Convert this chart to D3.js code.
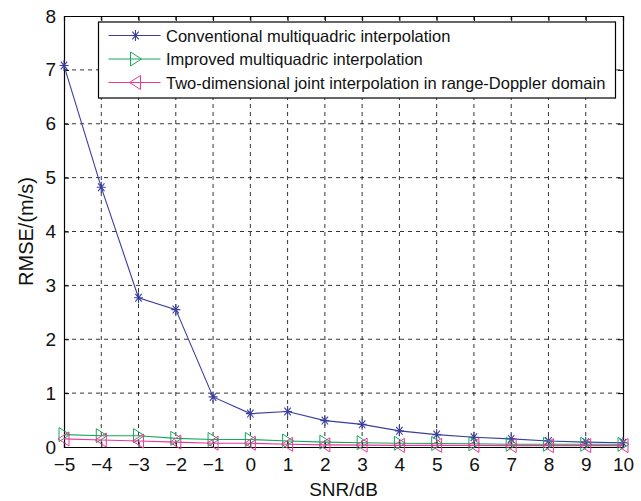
<!DOCTYPE html>
<html>
<head>
<meta charset="utf-8">
<script src="https://cdn.jsdelivr.net/npm/d3@7"></script>
<style>
  body { margin: 0; background: #fff; }
  svg { font-family: "Liberation Sans", Arial, sans-serif; }
</style>
</head>
<body>
<svg id="chart" width="641" height="501"></svg>
<script>
const snr = [-5, -4, -3, -2, -1, 0, 1, 2, 3, 4, 5, 6, 7, 8, 9, 10];
const conventional = [7.08, 4.82, 2.77, 2.55, 0.93, 0.62, 0.66, 0.49, 0.42, 0.30, 0.23, 0.18, 0.15, 0.11, 0.09, 0.08];
const improved = [0.23, 0.21, 0.21, 0.16, 0.14, 0.14, 0.11, 0.09, 0.08, 0.07, 0.065, 0.06, 0.05, 0.05, 0.05, 0.05];
const joint = [0.15, 0.13, 0.11, 0.09, 0.07, 0.07, 0.05, 0.04, 0.035, 0.03, 0.03, 0.03, 0.025, 0.025, 0.025, 0.025];
const xTicks = snr;
const yTicks = [0, 1, 2, 3, 4, 5, 6, 7, 8];

const series = [
  { name: "Conventional multiquadric interpolation", color: "#3b3f9c", marker: "star", values: conventional },
  { name: "Improved multiquadric interpolation", color: "#17a85a", marker: "right", values: improved },
  { name: "Two-dimensional joint interpolation in range-Doppler domain", color: "#e8389a", marker: "left", values: joint }
];

const margin = { top: 16, right: 18, bottom: 54, left: 64 };
const width = 641 - margin.left - margin.right;
const height = 501 - margin.top - margin.bottom;

const svg = d3.select("#chart");
const g = svg.append("g").attr("transform", `translate(${margin.left},${margin.top})`);

const x = d3.scaleLinear().domain([-5, 10]).range([0, width]);
const y = d3.scaleLinear().domain([0, 8]).range([height, 0]);

// grid
g.append("g").selectAll("line").data(xTicks.slice(1, -1)).enter().append("line")
  .attr("x1", d => x(d)).attr("x2", d => x(d)).attr("y1", 0).attr("y2", height)
  .attr("stroke", "#000").attr("stroke-width", 0.8).attr("stroke-dasharray", "4,4");
g.append("g").selectAll("line").data(yTicks.slice(1, -1)).enter().append("line")
  .attr("x1", 0).attr("x2", width).attr("y1", d => y(d)).attr("y2", d => y(d))
  .attr("stroke", "#000").attr("stroke-width", 0.8).attr("stroke-dasharray", "4,4");

// axes (ticks inside, MATLAB style)
const axB = g.append("g").attr("transform", `translate(0,${height})`)
  .call(d3.axisBottom(x).tickValues(xTicks).tickSize(-5).tickPadding(11).tickFormat(d3.format("d")));
const axT = g.append("g")
  .call(d3.axisTop(x).tickValues(xTicks).tickSize(-5).tickFormat(""));
const axL = g.append("g")
  .call(d3.axisLeft(y).tickValues(yTicks).tickSize(-5).tickPadding(8).tickFormat(d3.format("d")));
const axR = g.append("g").attr("transform", `translate(${width},0)`)
  .call(d3.axisRight(y).tickValues(yTicks).tickSize(-5).tickFormat(""));
[axB, axT, axL, axR].forEach(a => {
  a.select(".domain").attr("stroke", "#000").attr("stroke-width", 1.2);
  a.selectAll(".tick line").attr("stroke", "#000");
  a.selectAll("text").attr("fill", "#111").style("font-size", "19px");
});

g.append("text")
  .attr("x", width / 2).attr("y", height + 49)
  .attr("text-anchor", "middle").style("font-size", "19px").attr("fill", "#111")
  .text("SNR/dB");
g.append("text")
  .attr("transform", "rotate(-90)")
  .attr("x", -height / 2).attr("y", -31)
  .attr("text-anchor", "middle").style("font-size", "20px").attr("fill", "#111")
  .text("RMSE/(m/s)");

function drawMarker(sel, type, color) {
  if (type === "star") {
    sel.append("path")
      .attr("d", "M-4.5,0L4.5,0M0,-5.5L0,5.5M-3.2,-3.9L3.2,3.9M-3.2,3.9L3.2,-3.9")
      .attr("stroke", color).attr("stroke-width", 1.1).attr("fill", "none");
  } else if (type === "right") {
    sel.append("path").attr("d", "M-5,-7L6,0L-5,7Z")
      .attr("stroke", color).attr("stroke-width", 1).attr("fill", "none");
  } else {
    sel.append("path").attr("d", "M5,-7L-6,0L5,7Z")
      .attr("stroke", color).attr("stroke-width", 1).attr("fill", "none");
  }
}

const line = d3.line().x((d, i) => x(snr[i])).y(d => y(d));

series.forEach(s => {
  g.append("path").datum(s.values)
    .attr("d", line).attr("fill", "none")
    .attr("stroke", s.color).attr("stroke-width", 1.1);
  s.values.forEach((v, i) => {
    const m = g.append("g").attr("transform", `translate(${x(snr[i])},${y(v)})`);
    drawMarker(m, s.marker, s.color);
  });
});

// legend
const legend = g.append("g").attr("transform", `translate(${98.5 - margin.left},${22 - margin.top})`);
legend.append("rect")
  .attr("width", 517).attr("height", 76)
  .attr("fill", "#fff").attr("stroke", "#000").attr("stroke-width", 1.2);
series.forEach((s, i) => {
  const row = legend.append("g").attr("transform", `translate(0,${13.5 + i * 23.5})`);
  row.append("line").attr("x1", 10).attr("x2", 62).attr("y1", 0).attr("y2", 0)
    .attr("stroke", s.color).attr("stroke-width", 1.1);
  drawMarker(row.append("g").attr("transform", "translate(37,0)"), s.marker, s.color);
  row.append("text").attr("x", 67.5).attr("y", 6)
    .style("font-size", "16.5px").attr("fill", "#111")
    .text(s.name);
});
</script>
</body>
</html>
